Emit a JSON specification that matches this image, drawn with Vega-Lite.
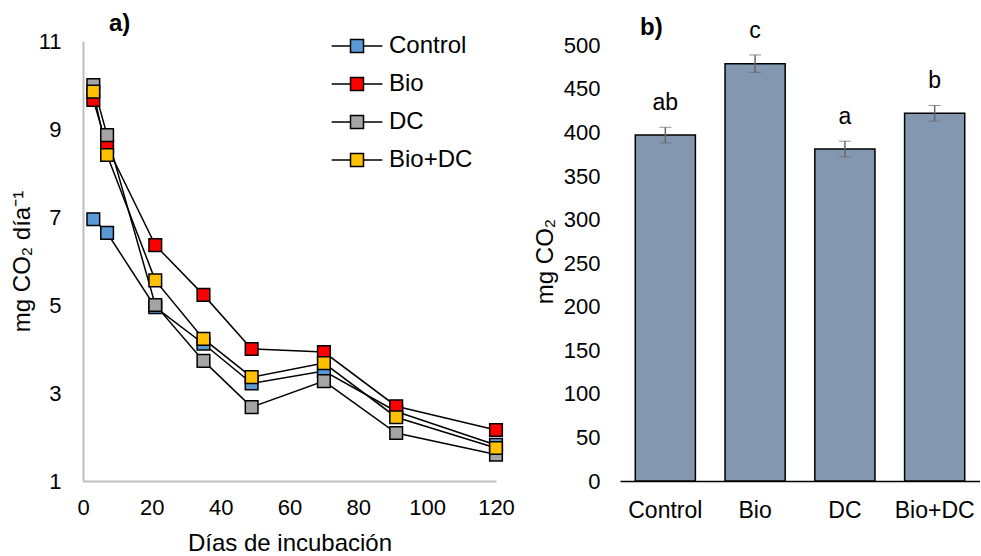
{
  "$schema": "https://vega.github.io/schema/vega-lite/v6.json",
  "background": "white",
  "padding": {"left": 10, "top": 12, "right": 0, "bottom": 0},
  "config": {
    "view": {"stroke": null},
    "font": "Liberation Sans",
    "axis": {"labelFont": "Liberation Sans", "titleFont": "Liberation Sans", "labelFontSize": 22, "titleFontSize": 24, "labelColor": "black", "titleColor": "black", "titleFontWeight": "normal", "grid": false, "ticks": false},
    "legend": {"labelFont": "Liberation Sans"},
    "title": {"font": "Liberation Sans"}
  },
  "datasets": {
    "series": [
      {"day": 3, "trt": "Control", "v": 6.95},
      {"day": 7, "trt": "Control", "v": 6.64},
      {"day": 21, "trt": "Control", "v": 4.95},
      {"day": 35, "trt": "Control", "v": 4.12},
      {"day": 49, "trt": "Control", "v": 3.22},
      {"day": 70, "trt": "Control", "v": 3.5},
      {"day": 91, "trt": "Control", "v": 2.58},
      {"day": 120, "trt": "Control", "v": 1.82},
      {"day": 3, "trt": "Bio", "v": 9.66},
      {"day": 7, "trt": "Bio", "v": 8.6},
      {"day": 21, "trt": "Bio", "v": 6.36},
      {"day": 35, "trt": "Bio", "v": 5.23},
      {"day": 49, "trt": "Bio", "v": 4.0},
      {"day": 70, "trt": "Bio", "v": 3.93},
      {"day": 91, "trt": "Bio", "v": 2.7},
      {"day": 120, "trt": "Bio", "v": 2.16},
      {"day": 3, "trt": "DC", "v": 10.0},
      {"day": 7, "trt": "DC", "v": 8.86},
      {"day": 21, "trt": "DC", "v": 5.0},
      {"day": 35, "trt": "DC", "v": 3.73},
      {"day": 49, "trt": "DC", "v": 2.68},
      {"day": 70, "trt": "DC", "v": 3.27},
      {"day": 91, "trt": "DC", "v": 2.09},
      {"day": 120, "trt": "DC", "v": 1.6},
      {"day": 3, "trt": "Bio+DC", "v": 9.85},
      {"day": 7, "trt": "Bio+DC", "v": 8.41},
      {"day": 21, "trt": "Bio+DC", "v": 5.56},
      {"day": 35, "trt": "Bio+DC", "v": 4.23},
      {"day": 49, "trt": "Bio+DC", "v": 3.36},
      {"day": 70, "trt": "Bio+DC", "v": 3.68},
      {"day": 91, "trt": "Bio+DC", "v": 2.45},
      {"day": 120, "trt": "Bio+DC", "v": 1.75}
    ],
    "totals": [
      {"trt": "Control", "co2": 397, "lo": 388, "hi": 406, "sig": "ab"},
      {"trt": "Bio", "co2": 479, "lo": 469, "hi": 489, "sig": "c"},
      {"trt": "DC", "co2": 381, "lo": 372, "hi": 390, "sig": "a"},
      {"trt": "Bio+DC", "co2": 422, "lo": 413, "hi": 431, "sig": "b"}
    ]
  },
  "hconcat": [
    {
      "width": 413,
      "height": 440,
      "title": {"text": "a)", "anchor": "start", "frame": "group", "dx": 26, "fontSize": 24, "fontWeight": "bold", "color": "black", "offset": -6},
      "data": {"name": "series"},
      "layer": [
        {
          "mark": {"type": "line", "color": "black", "strokeWidth": 1.5},
          "encoding": {
            "x": {"field": "day", "type": "quantitative", "scale": {"domain": [0, 120], "nice": false}},
            "y": {"field": "v", "type": "quantitative", "scale": {"domain": [1, 11], "nice": false, "zero": false}},
            "detail": {"field": "trt"}
          }
        },
        {
          "mark": {"type": "point", "shape": "square", "filled": true, "size": 160, "stroke": "black", "strokeWidth": 1.5, "opacity": 1},
          "encoding": {
            "x": {"field": "day", "type": "quantitative", "scale": {"domain": [0, 120], "nice": false}, "axis": {"values": [0, 20, 40, 60, 80, 100, 120], "title": "Días de incubación", "domainColor": "#bfbfbf", "domainWidth": 2, "labelPadding": 16, "titlePadding": 13, "labelFlush": false}},
            "y": {"field": "v", "type": "quantitative", "scale": {"domain": [1, 11], "nice": false, "zero": false}, "axis": {"values": [1, 3, 5, 7, 9, 11], "title": "mg CO₂ día⁻¹", "domainColor": "#bfbfbf", "domainWidth": 2, "labelPadding": 22, "titlePadding": 4}},
            "color": {"field": "trt", "type": "nominal", "scale": {"domain": ["Control", "Bio", "DC", "Bio+DC"], "range": ["#5b9bd5", "#ff0000", "#a5a5a5", "#ffc000"]},
              "legend": {"title": null, "orient": "none", "legendX": 262, "legendY": -7, "symbolType": "M-3.9,0H-1M1,0H3.9M-1,-1H1V1H-1Z", "symbolSize": 169, "symbolStrokeColor": "black", "symbolStrokeWidth": 1.5, "symbolOpacity": 1, "labelFontSize": 24, "labelColor": "black", "labelOffset": 20, "rowPadding": 14}}
          }
        }
      ]
    },
    {
      "width": 360,
      "height": 440,
      "title": {"text": "b)", "anchor": "start", "frame": "group", "dx": 20, "fontSize": 24, "fontWeight": "bold", "color": "black", "offset": -20},
      "data": {"name": "totals"},
      "layer": [
        {
          "mark": {"type": "bar", "color": "#8497b0", "stroke": "black", "strokeWidth": 1.5},
          "encoding": {
            "x": {"field": "trt", "type": "nominal", "sort": null, "scale": {"paddingInner": 0.33, "paddingOuter": 0.17}, "axis": {"title": null, "labelAngle": 0, "labelFontSize": 23, "domainColor": "black", "domainWidth": 1.5, "labelPadding": 18}},
            "y": {"field": "co2", "type": "quantitative", "title": "mg CO₂", "scale": {"domain": [0, 505], "nice": false}, "axis": {"values": [0, 50, 100, 150, 200, 250, 300, 350, 400, 450, 500], "title": "mg CO₂", "domain": false, "labelPadding": 20, "titlePadding": 6}}
          }
        },
        {
          "mark": {"type": "errorbar", "ticks": {"size": 12, "color": "#666666", "strokeWidth": 1.5}, "rule": {"color": "#666666", "strokeWidth": 1.5}},
          "encoding": {
            "x": {"field": "trt", "type": "nominal", "sort": null},
            "y": {"field": "lo", "type": "quantitative", "title": "mg CO₂"},
            "y2": {"field": "hi"}
          }
        },
        {
          "mark": {"type": "text", "fontSize": 23, "color": "black", "baseline": "alphabetic", "dy": -17},
          "encoding": {
            "x": {"field": "trt", "type": "nominal", "sort": null},
            "y": {"field": "hi", "type": "quantitative", "title": "mg CO₂"},
            "text": {"field": "sig"}
          }
        }
      ]
    }
  ],
  "spacing": 18
}
